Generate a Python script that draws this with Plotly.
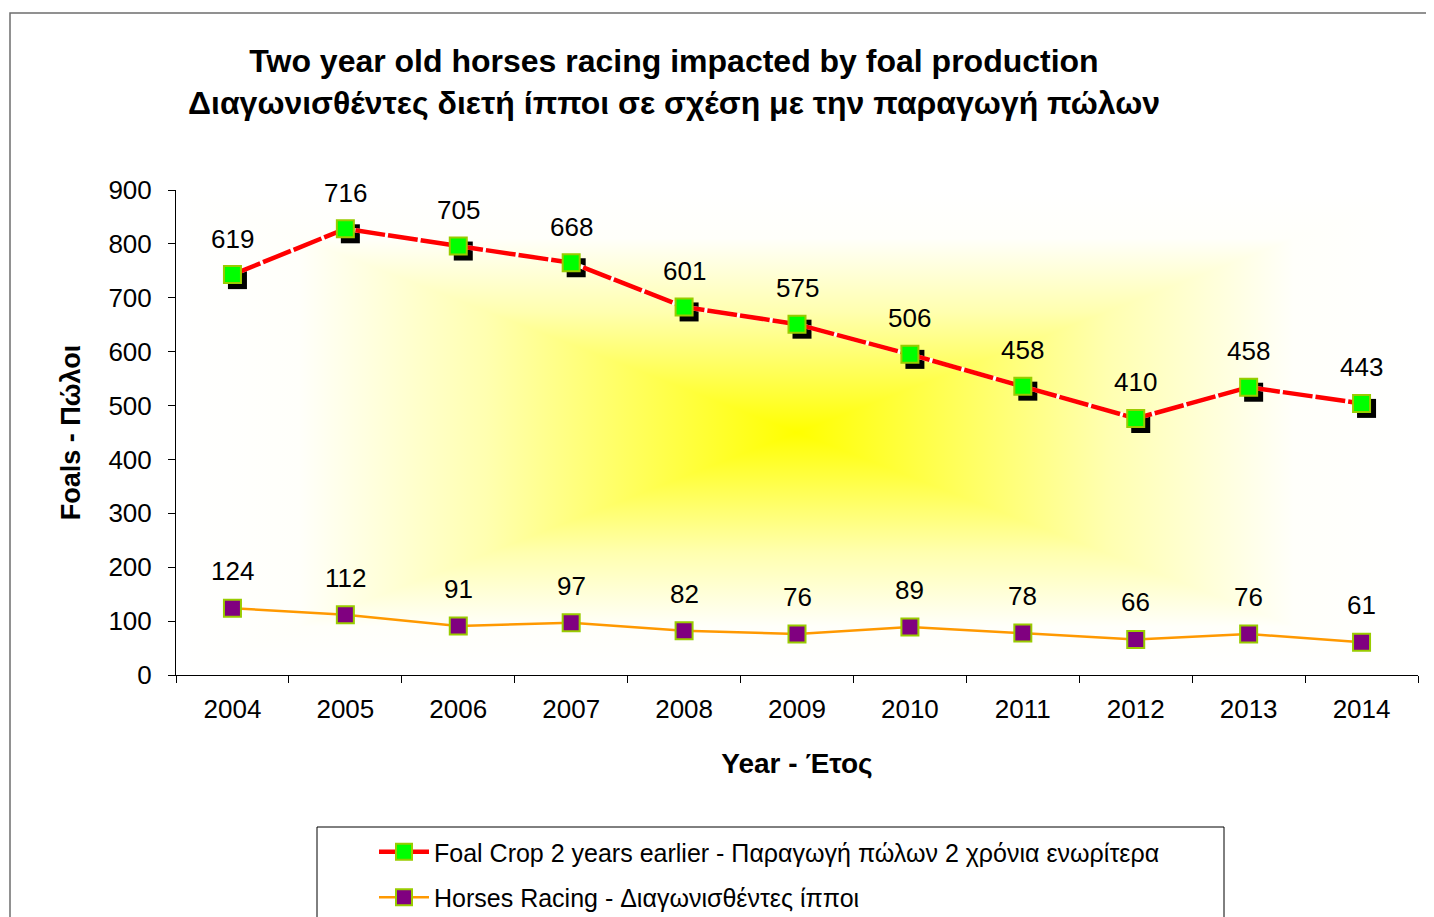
import base64
import plotly.graph_objects as go

# ---- data ----
years = ["2004", "2005", "2006", "2007", "2008", "2009", "2010", "2011", "2012", "2013", "2014"]
foal_crop = [619, 716, 705, 668, 601, 575, 506, 458, 410, 458, 443]   # Foal Crop 2 years earlier
horses_racing = [124, 112, 91, 97, 82, 76, 89, 78, 66, 76, 61]      # Horses Racing
y_ticks = [0, 100, 200, 300, 400, 500, 600, 700, 800, 900]

title_en = "Two year old horses racing impacted by foal production"
title_gr = "Διαγωνισθέντες διετή ίπποι σε σχέση με την παραγωγή πώλων"
name_foal = "Foal Crop 2 years earlier - Παραγωγή πώλων 2 χρόνια ενωρίτερα"
name_racing = "Horses Racing - Διαγωνισθέντες ίπποι"

# stacked line chart (Excel "stacked line"): foal series sits on top of racing series
foal_stacked = [f + r for f, r in zip(foal_crop, horses_racing)]

# ---- geometry (figure coords; page has an 8px body margin) ----
W, H = 1426, 909
L, R, T, B = 168, 16, 182, 242
PW, PH = W - L - R, H - T - B
YMAX = 900
n = len(years)
dx_shadow = 5 / (PW / n)          # 5 px in category units
dy_shadow = 5 * YMAX / PH         # 5 px in value units

FONT = "Arial, Liberation Sans, sans-serif"

# rectangular "from centre" gradient background
stops = '<stop offset="0" stop-color="#ffffff"/><stop offset="0.1" stop-color="#fffffa"/>' \
        '<stop offset="0.25" stop-color="#ffffb0"/><stop offset="0.5" stop-color="#ffff00"/>' \
        '<stop offset="0.75" stop-color="#ffffb0"/><stop offset="0.9" stop-color="#fffffa"/>' \
        '<stop offset="1" stop-color="#ffffff"/>'
svg = f'''<svg xmlns="http://www.w3.org/2000/svg" width="{PW}" height="{PH}" viewBox="0 0 {PW} {PH}" preserveAspectRatio="none">
<defs>
<linearGradient id="h" x1="0" y1="0" x2="1" y2="0">{stops}</linearGradient>
<linearGradient id="v" x1="0" y1="0" x2="0" y2="1">{stops}</linearGradient>
</defs>
<rect x="0" y="0" width="{PW}" height="{PH}" fill="url(#h)"/>
<rect x="0" y="0" width="{PW}" height="{PH}" fill="url(#v)" style="mix-blend-mode:lighten"/>
</svg>'''
bg_src = "data:image/svg+xml;base64," + base64.b64encode(svg.encode("utf-8")).decode("ascii")

fig = go.Figure()

# Horses racing (base axes)
fig.add_trace(go.Scatter(
    x=years, y=horses_racing, name=name_racing, mode="lines+markers",
    line=dict(color="#FF9900", width=2.5),
    marker=dict(symbol="square", size=17, color="#800080", line=dict(color="#99CC00", width=2)),
    legendgroup="b", legendrank=2, cliponaxis=False,
))

# Shadow of foal markers (offset axes)
fig.add_trace(go.Scatter(
    x=years, y=foal_stacked, mode="markers", showlegend=False, hoverinfo="skip",
    marker=dict(symbol="square", size=19, color="#000000", line=dict(width=0)),
    xaxis="x2", yaxis="y2", cliponaxis=False,
))

# White under-line for the dashed red line
fig.add_trace(go.Scatter(
    x=years, y=foal_stacked, mode="lines", showlegend=False, hoverinfo="skip",
    line=dict(color="#FFFFFF", width=4.5),
    xaxis="x3", yaxis="y3", cliponaxis=False,
))

# Foal crop line
fig.add_trace(go.Scatter(
    x=years, y=foal_stacked, name=name_foal, mode="lines+markers",
    line=dict(color="#FF0000", width=4.5, dash="30px,3px"),
    marker=dict(symbol="square", size=17, color="#00FF00", line=dict(color="#99CC00", width=2)),
    customdata=foal_crop, hovertemplate="%{x}: %{customdata}<extra></extra>",
    xaxis="x3", yaxis="y3", legendgroup="a", legendrank=1, cliponaxis=False,
))

# data labels (category index positions)
annotations = []
for i, v in enumerate(horses_racing):
    annotations.append(dict(x=i, y=v, xref="x", yref="y", text=str(v), showarrow=False,
                            yshift=37, font=dict(family=FONT, size=26, color="#000000")))
for i, (v, tot) in enumerate(zip(foal_crop, foal_stacked)):
    annotations.append(dict(x=i, y=tot, xref="x", yref="y", text=str(v), showarrow=False,
                            yshift=36, font=dict(family=FONT, size=26, color="#000000")))


def px_x(p):
    return (p - L) / PW


def px_y(p):
    return (H - B - p) / PH


shapes = [
    # outer chart border
    dict(type="rect", xref="paper", yref="paper", x0=px_x(2), x1=px_x(1440), y0=px_y(930), y1=px_y(5),
         line=dict(color="#6e6e6e", width=1.5), fillcolor="rgba(0,0,0,0)", layer="below"),
    # legend border
    dict(type="rect", xref="paper", yref="paper", x0=px_x(309), x1=px_x(1216), y0=px_y(930), y1=px_y(819),
         line=dict(color="#000000", width=1), fillcolor="rgba(0,0,0,0)", layer="above"),
]

fig.update_layout(
    width=W, height=H,
    margin=dict(l=L, r=R, t=T, b=B, autoexpand=False),
    paper_bgcolor="#FFFFFF", plot_bgcolor="rgba(0,0,0,0)",
    font=dict(family=FONT, color="#000000"),
    title=dict(text=f"<b>{title_en}<br>{title_gr}</b>", x=666 / W, xanchor="center",
               y=1 - 64 / H, yanchor="top", font=dict(family=FONT, size=32, color="#000000")),
    xaxis=dict(type="category", categoryorder="array", categoryarray=years, range=[-0.5, n - 0.5],
               tickson="boundaries", ticks="outside", ticklen=7, tickcolor="#000000",
               showline=True, linecolor="#000000", linewidth=1, showgrid=False, zeroline=False,
               tickfont=dict(size=26), ticklabelstandoff=11, fixedrange=True,
               title=dict(text="<b>Year - Έτος</b>", font=dict(size=28), standoff=30)),
    yaxis=dict(range=[0, YMAX], tickvals=y_ticks, ticks="outside", ticklen=7, tickcolor="#000000",
               showline=True, linecolor="#000000", linewidth=1, showgrid=False, zeroline=False,
               tickfont=dict(size=26), ticklabelstandoff=11, fixedrange=True,
               title=dict(text="<b>Foals - Πώλοι</b>", font=dict(size=27), standoff=19)),
    xaxis2=dict(type="category", categoryorder="array", categoryarray=years, overlaying="x", anchor="y2",
                range=[-0.5 - dx_shadow, n - 0.5 - dx_shadow], visible=False, fixedrange=True),
    yaxis2=dict(overlaying="y", anchor="x2", range=[dy_shadow, YMAX + dy_shadow], visible=False, fixedrange=True),
    xaxis3=dict(type="category", categoryorder="array", categoryarray=years, overlaying="x", anchor="y3",
                range=[-0.5, n - 0.5], visible=False, fixedrange=True),
    yaxis3=dict(overlaying="y", anchor="x3", range=[0, YMAX], visible=False, fixedrange=True),
    legend=dict(x=px_x(366), y=px_y(821), xanchor="left", yanchor="top", orientation="v",
                bgcolor="rgba(0,0,0,0)", borderwidth=0, font=dict(size=25),
                itemwidth=50, tracegroupgap=10, traceorder="grouped"),
    annotations=annotations,
    shapes=shapes,
    images=[dict(source=bg_src, xref="paper", yref="paper", x=0, y=1, sizex=1, sizey=1,
                 xanchor="left", yanchor="top", sizing="stretch", layer="below")],
    showlegend=True,
)

fig.write_html("out.html")
